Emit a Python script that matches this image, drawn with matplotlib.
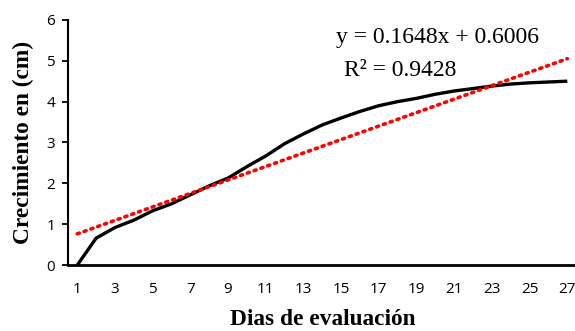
import numpy as np
import matplotlib.pyplot as plt

dias = list(range(1, 28))
crecimiento = [0.00, 0.66, 0.92, 1.10, 1.33, 1.50, 1.72, 1.94, 2.13, 2.41,
               2.67, 2.97, 3.21, 3.43, 3.60, 3.76, 3.90, 4.00, 4.08, 4.18,
               4.26, 4.32, 4.38, 4.43, 4.46, 4.48, 4.50]

# linear trendline reported on the chart
pendiente = 0.1648
intercepto = 0.6006
r2 = 0.9428

x_ticks = list(range(1, 28, 2))
y_ticks = list(range(0, 7))

fig = plt.figure(figsize=(5.75, 3.31), dpi=100)
ax = fig.add_axes([0.118, 0.199, 0.885, 0.741])

ax.plot(dias, crecimiento, color="black", linewidth=2.4, solid_capstyle="butt")
x = np.array(dias)
ax.plot(x, pendiente * x + intercepto, color="red", linewidth=2.6,
        linestyle=(0, (0.6, 1.4)), dash_capstyle="round")

ax.set_xlim(0.5, 27.5)
ax.set_ylim(0, 6)
ax.set_xticks(x_ticks)
ax.set_yticks(y_ticks)

tick_font = {"family": ["Open Sans", "DejaVu Sans"], "size": 11}
ax.set_xticklabels([str(t) for t in x_ticks], **tick_font)
ax.set_yticklabels([str(t) for t in y_ticks], **tick_font)
ax.tick_params(axis="x", length=0, pad=12)
ax.tick_params(axis="y", length=4.3, width=1.3, pad=5)

for side in ["top", "right"]:
    ax.spines[side].set_visible(False)
ax.spines["left"].set_linewidth(1.5)
ax.spines["bottom"].set_linewidth(2.0)

ax.set_xlabel("Dias de evaluación", labelpad=9, family="Liberation Serif",
              weight="bold", size=16.8)
ax.set_ylabel("Crecimiento en (cm)", labelpad=9, family="Liberation Serif",
              weight="bold", size=16.8)

eq_font = {"family": "Liberation Serif", "size": 17}
fig.text(437 / 575, 1 - 38 / 331, f"y = {pendiente}x + {intercepto}",
         ha="center", va="center", **eq_font)
fig.text(400 / 575, 1 - 71 / 331, f"R² = {r2}", ha="center", va="center", **eq_font)

fig.savefig("out.png", dpi=100)
